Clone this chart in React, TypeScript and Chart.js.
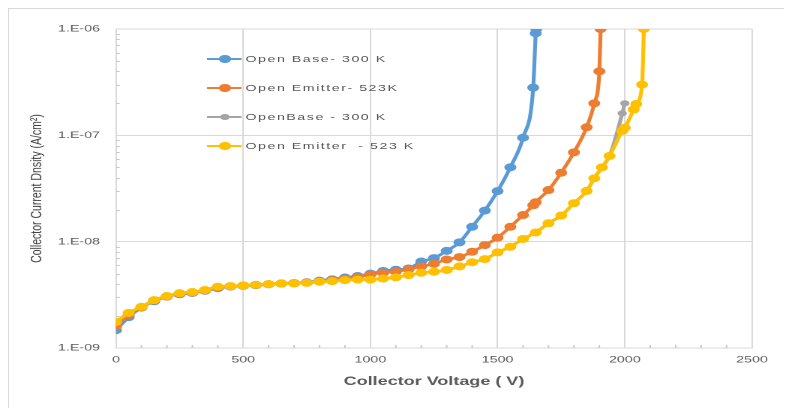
import React, { useEffect, useRef } from 'react';
import { Chart, registerables } from 'chart.js';

Chart.register(...registerables);

// ---------- data ----------
const xTickValues = [0, 500, 1000, 1500, 2000, 2500];
const xTickLabels = ['0', '500', '1000', '1500', '2000', '2500'];
const yTickValues = [1e-9, 1e-8, 1e-7, 1e-6];
const yTickLabels = ['1.E-09', '1.E-08', '1.E-07', '1.E-06'];

const seriesNames = ['Open Base- 300 K', 'Open Emitter- 523K', 'OpenBase - 300 K', 'Open Emitter  - 523 K'];
const seriesColors = ['#5B9BD5', '#ED7D31', '#A5A5A5', '#FFC000'];

// Open Base - 300 K (blue)
const blueV = [0, 50, 100, 150, 200, 250, 300, 350, 400, 450, 500, 550, 600, 650, 700, 750, 800, 850, 900, 950,
  1000, 1050, 1100, 1150, 1200, 1250, 1300, 1350, 1400, 1450, 1500, 1550, 1600, 1640, 1650, 1652];
const blueJ = [1.47e-9, 1.95e-9, 2.4e-9, 2.75e-9, 3.05e-9, 3.2e-9, 3.3e-9, 3.45e-9, 3.65e-9, 3.78e-9, 3.85e-9, 3.9e-9,
  3.98e-9, 4.05e-9, 4.08e-9, 4.15e-9, 4.3e-9, 4.42e-9, 4.6e-9, 4.75e-9,
  5.0e-9, 5.3e-9, 5.45e-9, 5.6e-9, 6.5e-9, 7.0e-9, 8.2e-9, 9.85e-9, 1.38e-8, 1.96e-8, 2.99e-8, 5.0e-8, 9.5e-8,
  2.81e-7, 9.1e-7, 1e-6];

// Open Emitter - 523 K (orange)
const orangeV = [0, 50, 100, 150, 200, 250, 300, 350, 400, 450, 500, 550, 600, 650, 700, 750, 800, 850, 900, 950,
  1000, 1050, 1100, 1150, 1200, 1250, 1300, 1350, 1400, 1450, 1500, 1550, 1600, 1640, 1650, 1700, 1750, 1800, 1850,
  1880, 1900, 1905];
const orangeJ = [1.6e-9, 2.05e-9, 2.42e-9, 2.8e-9, 3.05e-9, 3.25e-9, 3.33e-9, 3.48e-9, 3.7e-9, 3.8e-9, 3.86e-9, 3.92e-9,
  3.98e-9, 4.04e-9, 4.06e-9, 4.12e-9, 4.22e-9, 4.35e-9, 4.48e-9, 4.65e-9,
  4.9e-9, 5.1e-9, 5.22e-9, 5.5e-9, 5.85e-9, 6.2e-9, 6.8e-9, 7.16e-9, 8.04e-9, 9.29e-9, 1.09e-8, 1.38e-8, 1.78e-8,
  2.2e-8, 2.35e-8, 3.06e-8, 4.45e-8, 6.92e-8, 1.19e-7, 2.0e-7, 4.0e-7, 1e-6];

// OpenBase - 300 K (gray)
const grayV = [0, 50, 100, 150, 200, 250, 300, 350, 400, 450, 500, 550, 600, 650, 700, 750, 800, 850, 900, 950,
  1000, 1050, 1100, 1150, 1200, 1250, 1300, 1350, 1400, 1450, 1500, 1550, 1600, 1650, 1700, 1750, 1800, 1850,
  1880, 1910, 1940, 1990, 2000];
const grayJ = [1.76e-9, 2.14e-9, 2.44e-9, 2.82e-9, 3.08e-9, 3.28e-9, 3.36e-9, 3.51e-9, 3.77e-9, 3.82e-9, 3.88e-9, 3.93e-9,
  3.99e-9, 4.05e-9, 4.05e-9, 4.1e-9, 4.2e-9, 4.25e-9, 4.35e-9, 4.4e-9,
  4.4e-9, 4.5e-9, 4.62e-9, 4.85e-9, 5.1e-9, 5.22e-9, 5.42e-9, 5.85e-9, 6.4e-9, 6.86e-9, 7.93e-9, 8.96e-9, 1.06e-8,
  1.22e-8, 1.49e-8, 1.76e-8, 2.3e-8, 3.0e-8, 3.94e-8, 5.0e-8, 6.4e-8, 1.61e-7, 2.0e-7];

// Open Emitter - 523 K (yellow)
const yellowV = [0, 50, 100, 150, 200, 250, 300, 350, 400, 450, 500, 550, 600, 650, 700, 750, 800, 850, 900, 950,
  1000, 1050, 1100, 1150, 1200, 1250, 1300, 1350, 1400, 1450, 1500, 1550, 1600, 1650, 1700, 1750, 1800, 1850,
  1880, 1910, 1940, 1990, 2000, 2035, 2045, 2068, 2075];
const yellowJ = [1.76e-9, 2.14e-9, 2.44e-9, 2.82e-9, 3.08e-9, 3.28e-9, 3.36e-9, 3.51e-9, 3.77e-9, 3.82e-9, 3.88e-9, 3.93e-9,
  3.99e-9, 4.05e-9, 4.05e-9, 4.1e-9, 4.2e-9, 4.25e-9, 4.35e-9, 4.4e-9,
  4.4e-9, 4.5e-9, 4.62e-9, 4.85e-9, 5.1e-9, 5.22e-9, 5.42e-9, 5.85e-9, 6.4e-9, 6.86e-9, 7.93e-9, 8.96e-9, 1.06e-8,
  1.22e-8, 1.49e-8, 1.76e-8, 2.3e-8, 3.0e-8, 3.94e-8, 5.0e-8, 6.4e-8, 1.1e-7, 1.18e-7, 1.75e-7, 1.97e-7, 3.0e-7, 1e-6];

const xTitle = 'Collector Voltage ( V)';
const yTitle = 'Collector Current Dnsity (A/cm²)';

// ---------- layout ----------
const STRETCH = 1.5;
const INNER_W = 783;
const INNER_H = 399;
const CANVAS_W = INNER_W / STRETCH; // 522
const PLOT_LEFT = (116 - 9) / STRETCH;
const PLOT_RIGHT = (752 - 9) / STRETCH;
const FONT = "'Liberation Sans', Arial, sans-serif";

const toPoints = (xs: number[], ys: number[]) => xs.map((x, i) => ({ x, y: ys[i] }));

const minorTicksPlugin = {
  id: 'minorTicks',
  beforeDatasetsDraw(chart: any) {
    const { ctx, chartArea, scales } = chart;
    const x = scales.x;
    const y = scales.y;
    ctx.save();
    ctx.strokeStyle = '#c8c8c8';
    ctx.lineWidth = 1;
    ctx.beginPath();
    for (let d = 0; d < yTickValues.length - 1; d++) {
      for (let m = 2; m <= 9; m++) {
        const py = Math.round(y.getPixelForValue(yTickValues[d] * m)) + 0.5;
        ctx.moveTo(chartArea.left, py);
        ctx.lineTo(chartArea.left + 2.5, py);
      }
    }
    for (let v = 100; v < 2500; v += 100) {
      if (v % 500 === 0) continue;
      const px = x.getPixelForValue(v);
      ctx.moveTo(px, chartArea.bottom);
      ctx.lineTo(px, chartArea.bottom - 3);
    }
    ctx.stroke();
    ctx.restore();
  },
};

export default function App() {
  const canvasRef = useRef<HTMLCanvasElement | null>(null);

  useEffect(() => {
    if (!canvasRef.current) return;
    const mk = (idx: number, xs: number[], ys: number[], order: number, r: number) => ({
      label: seriesNames[idx],
      data: toPoints(xs, ys),
      borderColor: seriesColors[idx],
      backgroundColor: seriesColors[idx],
      pointBackgroundColor: seriesColors[idx],
      pointBorderColor: seriesColors[idx],
      pointRadius: r,
      pointBorderWidth: 1,
      borderWidth: 2.6,
      cubicInterpolationMode: 'monotone' as const,
      showLine: true,
      order,
    });

    const chart = new Chart(canvasRef.current, {
      type: 'scatter',
      data: {
        datasets: [
          mk(0, blueV, blueJ, 3, 3.5),
          mk(1, orangeV, orangeJ, 2, 3.5),
          mk(2, grayV, grayJ, 1, 2.6),
          mk(3, yellowV, yellowJ, 0, 3.5),
        ],
      },
      options: {
        animation: false,
        responsive: true,
        maintainAspectRatio: false,
        devicePixelRatio: 2,
        layout: { padding: { left: 0, right: CANVAS_W - PLOT_RIGHT, top: 20, bottom: 0 } },
        plugins: { legend: { display: false }, tooltip: { enabled: false }, title: { display: false } },
        scales: {
          x: {
            type: 'linear',
            min: 0,
            max: 2500,
            afterBuildTicks: (s: any) => { s.ticks = xTickValues.map((v) => ({ value: v })); },
            afterFit: (s: any) => { s.height = 60; },
            grid: { color: '#d9d9d9', lineWidth: 1, drawTicks: false },
            border: { color: '#d9d9d9', width: 1 },
            ticks: {
              padding: 6,
              color: '#595959',
              font: { family: FONT, size: 9.5 },
              maxRotation: 0,
              autoSkip: false,
              callback: (v: any) => {
                const i = xTickValues.indexOf(Number(v));
                return i >= 0 ? xTickLabels[i] : '';
              },
            },
            title: {
              display: true,
              text: xTitle,
              color: '#595959',
              font: { family: FONT, size: 12, weight: 'bold' },
              padding: { top: 0, bottom: 19 },
            },
          },
          y: {
            type: 'logarithmic',
            min: 1e-9,
            max: 1e-6,
            afterBuildTicks: (s: any) => { s.ticks = yTickValues.map((v) => ({ value: v })); },
            afterFit: (s: any) => { s.width = PLOT_LEFT; },
            grid: { color: '#d9d9d9', lineWidth: 1, drawTicks: false },
            border: { color: '#d9d9d9', width: 1 },
            ticks: {
              padding: PLOT_LEFT - (100 - 9) / STRETCH,
              color: '#595959',
              font: { family: FONT, size: 9.5 },
              autoSkip: false,
              callback: (v: any) => {
                const i = yTickValues.findIndex((t) => Math.abs(Math.log10(t) - Math.log10(Number(v))) < 1e-6);
                return i >= 0 ? yTickLabels[i] : '';
              },
            },
            title: {
              display: true,
              text: yTitle,
              color: '#404040',
              font: { family: FONT, size: 10.5 },
              padding: { top: 12.5, bottom: 0 },
            },
          },
        },
      },
      plugins: [minorTicksPlugin],
    } as any);
    return () => chart.destroy();
  }, []);

  const legendRows = [59, 88, 117, 146];
  const lineL = (207 - 9) / STRETCH;
  const lineR = (241 - 9) / STRETCH;
  const markC = (225 - 9) / STRETCH;
  const textL = (245.5 - 9) / STRETCH;

  return (
    <div
      style={{
        position: 'relative',
        width: 784,
        height: 400,
        boxSizing: 'border-box',
        borderTop: '1px solid #d9d9d9',
        borderLeft: '1px solid #d9d9d9',
        overflow: 'hidden',
        background: '#fff',
      }}
    >
      <div
        style={{
          position: 'absolute',
          left: 0,
          top: 0,
          width: CANVAS_W,
          height: INNER_H,
          transform: `scaleX(${STRETCH})`,
          transformOrigin: '0 0',
        }}
      >
        <canvas ref={canvasRef} style={{ width: '100%', height: '100%' }} />
        {seriesNames.map((name, i) => {
          const cy = legendRows[i] - 9;
          const r = i === 2 ? 2.8 : 3.8;
          return (
            <React.Fragment key={name}>
              <div
                style={{
                  position: 'absolute',
                  left: lineL,
                  width: lineR - lineL,
                  top: cy - 1.3,
                  height: 2.6,
                  background: seriesColors[i],
                }}
              />
              <div
                style={{
                  position: 'absolute',
                  left: markC - r,
                  top: cy - r,
                  width: 2 * r,
                  height: 2 * r,
                  borderRadius: '50%',
                  background: seriesColors[i],
                }}
              />
              <div
                style={{
                  position: 'absolute',
                  left: textL,
                  top: cy - 7,
                  height: 14,
                  lineHeight: '14px',
                  fontFamily: FONT,
                  fontSize: 9.5,
                  letterSpacing: '1px',
                  color: '#595959',
                  whiteSpace: 'pre',
                }}
              >
                {name}
              </div>
            </React.Fragment>
          );
        })}
      </div>
    </div>
  );
}
